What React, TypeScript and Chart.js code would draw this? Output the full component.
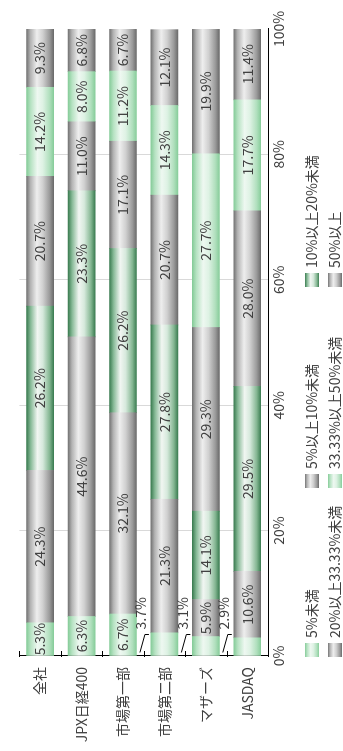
import React, { useEffect, useRef } from 'react';
import { Chart, registerables } from 'chart.js';

Chart.register(...registerables);

// ---- data ----
const categories = ['全社', 'JPX日経400', '市場第一部', '市場第二部', 'マザーズ', 'JASDAQ'];
const seriesNames = ['5%未満', '5%以上10%未満', '10%以上20%未満', '20%以上33.33%未満', '33.33%以上50%未満', '50%以上'];
const under5 = [5.3, 6.3, 6.7, 3.7, 3.1, 2.9];
const from5to10 = [24.3, 44.6, 32.1, 21.3, 5.9, 10.6];
const from10to20 = [26.2, 23.3, 26.2, 27.8, 14.1, 29.5];
const from20to33 = [20.7, 11.0, 17.1, 20.7, 29.3, 28.0];
const from33to50 = [14.2, 8.0, 11.2, 14.3, 27.7, 17.7];
const over50 = [9.3, 6.8, 6.7, 12.1, 19.9, 11.4];
const valueTickStep = 20;

// ---- styles ----
const FONT = "'Noto Sans CJK JP', 'Noto Sans', sans-serif";
const TEXT = '#404040';
const BAR_T = 27;
type Stops = [number, string][];
const gray: Stops = [[0, '#747474'], [0.14, '#b2b2b2'], [0.38, '#eeeeee'], [0.6, '#d0d0d0'], [0.85, '#9a9a9a'], [1, '#6c6c6c']];
const lightGreen: Stops = [[0, '#86cc99'], [0.15, '#b6e2c2'], [0.4, '#eef8f1'], [0.6, '#def2e4'], [0.85, '#b0dfbd'], [1, '#88cd9b']];
const darkGreen: Stops = [[0, '#3b7c51'], [0.15, '#86b996'], [0.4, '#f1f6f2'], [0.6, '#d6e9dc'], [0.85, '#84b692'], [1, '#3d7e53']];
const palettes = [lightGreen, gray, darkGreen, gray, lightGreen, gray];
const flat = ['#b6e2c2', '#c0c0c0', '#86b996', '#c0c0c0', '#b6e2c2', '#c0c0c0'];

function grad(ctx: CanvasRenderingContext2D, y0: number, y1: number, stops: Stops) {
  const g = ctx.createLinearGradient(0, y0, 0, y1);
  stops.forEach(([o, c]) => g.addColorStop(o, c));
  return g;
}

const labelPlugin = {
  id: 'customDraw',
  afterDatasetsDraw(chart: any) {
    const ctx: CanvasRenderingContext2D = chart.ctx;
    const yScale = chart.scales.y;
    const area = chart.chartArea;
    ctx.save();
    // inward tick marks on category axis
    ctx.strokeStyle = '#000';
    ctx.lineWidth = 1;
    for (let i = 0; i <= categories.length; i++) {
      const py = Math.round(yScale.getPixelForValue(i - 0.5)) + 0.5;
      ctx.beginPath();
      ctx.moveTo(area.left - 1, py);
      ctx.lineTo(area.left + 5, py);
      ctx.stroke();
    }
    // data labels
    ctx.font = `14px ${FONT}`;
    ctx.fillStyle = TEXT;
    ctx.textBaseline = 'middle';
    chart.data.datasets.forEach((ds: any, di: number) => {
      const meta = chart.getDatasetMeta(di);
      meta.data.forEach((el: any, i: number) => {
        const v = ds.data[i];
        const txt = v.toFixed(1) + '%';
        const start = Math.min(el.x, el.base);
        const end = Math.max(el.x, el.base);
        if (v < 4) {
          const top = el.y - el.height / 2;
          ctx.strokeStyle = '#000';
          ctx.beginPath();
          ctx.moveTo(start + 3, top - 11);
          ctx.lineTo(start + 21, top - 6);
          ctx.lineTo(start + 21, top - 2);
          ctx.stroke();
          ctx.textAlign = 'left';
          ctx.fillText(txt, start + 26, top - 10);
        } else {
          ctx.textAlign = 'center';
          ctx.fillText(txt, (start + end) / 2, el.y);
        }
      });
    });
    ctx.restore();
  },
  afterDraw(chart: any) {
    const ctx: CanvasRenderingContext2D = chart.ctx;
    const colX = [94, 263, 464];
    const rowY = [312, 335];
    ctx.save();
    ctx.font = `14px ${FONT}`;
    ctx.fillStyle = TEXT;
    ctx.textBaseline = 'middle';
    ctx.textAlign = 'left';
    chart.data.datasets.forEach((ds: any, di: number) => {
      const x = colX[di % 3];
      const y = rowY[Math.floor(di / 3)];
      ctx.fillStyle = grad(ctx, y - 7, y + 7, palettes[di]);
      ctx.fillRect(x, y - 7, 14, 14);
      ctx.fillStyle = TEXT;
      ctx.fillText(ds.label, x + 19, y);
    });
    ctx.restore();
  },
};

export default function App() {
  const ref = useRef<HTMLCanvasElement>(null);
  useEffect(() => {
    if (!ref.current) return;
    Chart.defaults.font.family = FONT;
    const series = [under5, from5to10, from10to20, from20to33, from33to50, over50];
    const chart = new Chart(ref.current, {
      type: 'bar',
      data: {
        labels: categories,
        datasets: series.map((d, si) => ({
          label: seriesNames[si],
          data: d,
          barThickness: BAR_T,
          borderWidth: 0,
          backgroundColor: (c: any) => {
            const ch = c.chart;
            const ys = ch.scales && ch.scales.y;
            if (!ys || c.type !== 'data') return flat[si];
            const yc = ys.getPixelForValue(c.dataIndex);
            if (!isFinite(yc)) return flat[si];
            return grad(ch.ctx, yc - BAR_T / 2, yc + BAR_T / 2, palettes[si]);
          },
        })),
      },
      options: {
        indexAxis: 'y',
        responsive: false,
        animation: false,
        devicePixelRatio: 1,
        layout: { padding: { top: 7, right: 29, left: 0, bottom: 53 } },
        plugins: { legend: { display: false }, tooltip: { enabled: false } },
        scales: {
          x: {
            stacked: true,
            min: 0,
            max: 100,
            position: 'bottom',
            ticks: {
              stepSize: valueTickStep,
              padding: 2,
              color: TEXT,
              font: { size: 14, family: FONT },
              callback: (v: any) => v + '%',
            },
            grid: {
              drawTicks: false,
              color: (c: any) => (c.tick && (c.tick.value === 0 || c.tick.value === 100) ? 'rgba(0,0,0,0)' : '#d9d9d9'),
            },
            border: { display: true, color: '#000', width: 1 },
            afterFit: (s: any) => { s.height = 22; },
          },
          y: {
            stacked: true,
            offset: true,
            ticks: { padding: 11, color: TEXT, font: { size: 14, family: FONT } },
            grid: { display: true, drawOnChartArea: false, drawTicks: false },
            border: { display: true, color: '#000', width: 1 },
            afterFit: (s: any) => { s.width = 95; },
          },
        },
      },
      plugins: [labelPlugin],
    } as any);
    return () => chart.destroy();
  }, []);
  return (
    <div
      style={{
        position: 'fixed',
        top: 0,
        left: 0,
        width: 751,
        height: 343,
        background: '#fff',
        transformOrigin: '0 0',
        transform: 'translateY(751px) rotate(-90deg)',
      }}
    >
      <canvas ref={ref} width={751} height={343} style={{ display: 'block' }} />
    </div>
  );
}
